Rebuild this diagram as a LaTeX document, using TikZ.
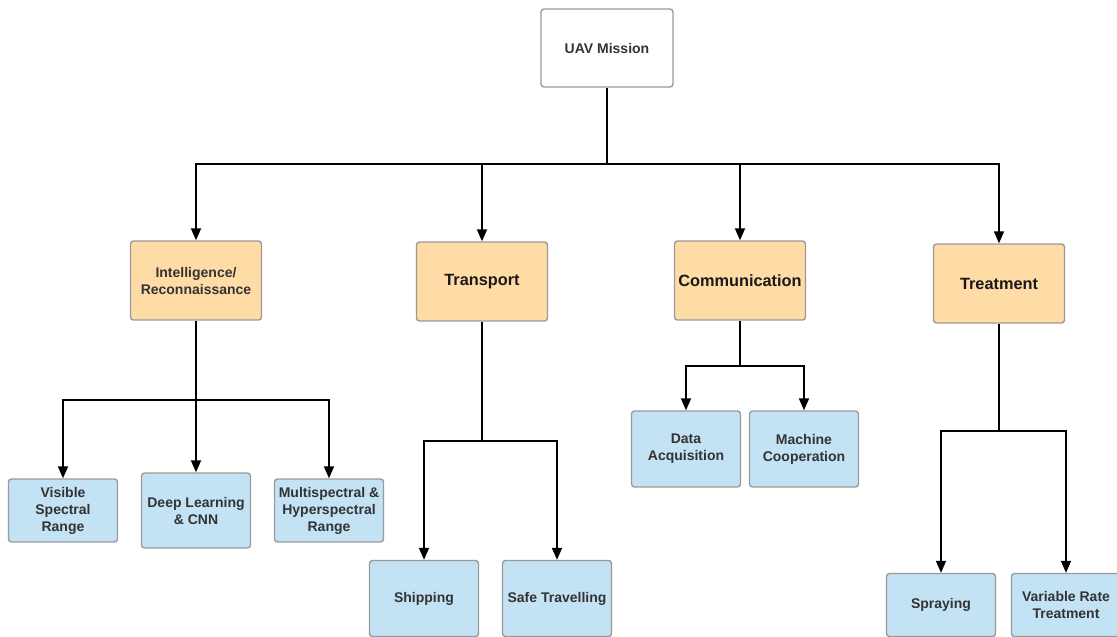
\documentclass[tikz,border=0pt]{standalone}
\usepackage{fontspec}
\setmainfont{Liberation Sans}
\usepackage{tikz}
\usetikzlibrary{positioning,arrows.meta}

\definecolor{catfill}{HTML}{FFDBA6}
\definecolor{leaffill}{HTML}{C3E3F5}
\definecolor{boxline}{HTML}{9A9A9A}
\definecolor{textgray}{HTML}{333333}

\begin{document}
\begin{tikzpicture}[x=1pt,y=-1pt,
      box/.style={draw=boxline,line width=1.4pt,rounded corners=3pt,inner sep=0pt,align=center,
        text=textgray,font=\bfseries\fontsize{14}{17}\selectfont},
      root/.style={box,fill=white,minimum width=132pt,minimum height=78pt},
      cat/.style={box,fill=catfill,minimum width=131pt,minimum height=79pt},
      bigcat/.style={cat,text=black!90,font=\bfseries\fontsize{16.3}{19}\selectfont},
      leaf/.style={box,fill=leaffill,minimum width=109pt,minimum height=76pt},
      low/.style={leaf,minimum height=63pt},
      >={Triangle[length=12pt,width=10pt]},line width=1.8pt]
      \useasboundingbox (0,0) rectangle (1117,637);
      % top
      \node[root] (mission) at (607,48) {UAV Mission};
      % categories
      \node[cat]    (intel) at (196,280.5) {Intelligence/\\Reconnaissance};
      \node[bigcat] (trans) at (482,281.5) {Transport};
      \node[bigcat] (comm)  at (740,280.5) {Communication};
      \node[bigcat] (treat) at (999,283.5) {Treatment};
      % leaves
      \node[low]  (vis)   at (63,510.5)    {Visible\\Spectral\\Range};
      \node[leaf,minimum height=75pt] (deep) at (196,510.5) {Deep Learning\\\& CNN};
      \node[low]  (multi) at (329,510.5) {Multispectral \&\\Hyperspectral\\Range};
      \node[leaf] (ship)  at (424,598.5) {Shipping};
      \node[leaf] (safe)  at (557,598.5) {Safe Travelling};
      \node[leaf] (data)  at (686,449)   {Data\\Acquisition};
      \node[leaf] (mach)  at (804,449)   {Machine\\Cooperation};
      \node[low]  (spray) at (941,605)   {Spraying};
      \node[low]  (vrt)   at (1066,605)    {Variable Rate\\Treatment};
      % junctions
      \coordinate (top)    at (607,164);
      \coordinate (intelj) at (196,400);
      \coordinate (transj) at (482,441);
      \coordinate (commj)  at (740,366);
      \coordinate (treatj) at (999,431);
      \draw (mission) -- (top);
      \foreach \c in {intel,trans,comm,treat}
        \draw[->] (top) -| (\c.north);
      \draw (intel) -- (intelj);
      \foreach \l in {vis,deep,multi}
        \draw[->] (intelj) -| (\l.north);
      \draw (trans) -- (transj);
      \draw[->] (transj) -| (ship.north);
      \draw[->] (transj) -| (safe.north);
      \draw (comm) -- (commj);
      \draw[->] (commj) -| (data.north);
      \draw[->] (commj) -| (mach.north);
      \draw (treat) -- (treatj);
      \draw[->] (treatj) -| (spray.north);
      \draw[->] (treatj) -| (vrt.north);
    \end{tikzpicture}
\end{document}
